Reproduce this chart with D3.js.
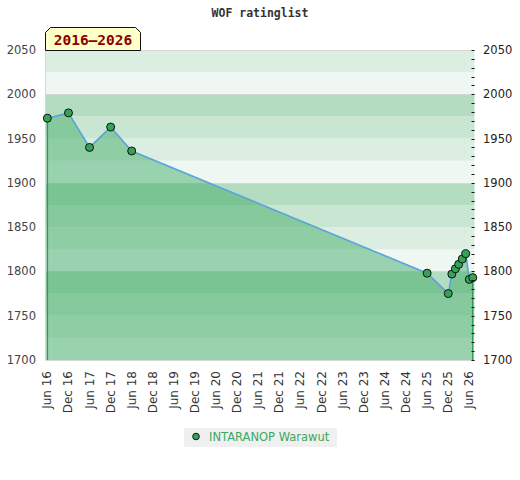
<!DOCTYPE html>
<html>
<head>
<meta charset="utf-8">
<title>WOF ratinglist</title>
<script src="https://d3js.org/d3.v7.min.js"></script>
<style>
  body { margin: 0; background: #fff; font-family: "DejaVu Sans", sans-serif; }
  svg { display: block; }
</style>
</head>
<body>
<script>
// rating history, one entry per list
var dates = ["2016-06-01", "2016-12-01", "2017-06-01", "2017-12-01", "2018-06-01",
             "2025-06-01", "2025-12-01", "2026-01-01", "2026-02-01", "2026-03-01",
             "2026-04-01", "2026-05-01", "2026-06-01", "2026-07-01"];
var ratings = [1973, 1979, 1940, 1963, 1936,
               1798, 1775, 1797, 1803, 1808,
               1814, 1820, 1791, 1793];
var yLabels = [1700, 1750, 1800, 1850, 1900, 1950, 2000, 2050];
var xTickMonths = d3.range(0, 21).map(function(i) { return d3.timeMonth.offset(new Date(2016, 5, 1), i * 6); });
var playerName = "INTARANOP Warawut";
var periodLabel = "2016\u20132026";
var chartTitle = "WOF ratinglist";

var W = 520, H = 480;
// note: "top" is taken by window.top, so plot edges get their own names
var pLeft = 45.5, pRight = 474.5, pTop = 50, pBottom = 360;

var svg = d3.select("body").append("svg").attr("width", W).attr("height", H);

var parse = d3.timeParse("%Y-%m-%d");
var data = dates.map(function(d, i) { return { date: parse(d), r: ratings[i] }; });

var x = d3.scaleTime()
    .domain([new Date(2016, 4, 16), new Date(2026, 6, 16)])
    .range([pLeft, pRight]);
var y = d3.scaleLinear().domain([1700, 2050]).range([pBottom, pTop]);

// background bands, 25 points each
var bandColor = { 0: "#eef7f1", 25: "#dbeee1", 50: "#c8e6d1", 75: "#b3dcc1" };
svg.selectAll(".band")
    .data(d3.range(1700, 2050, 25))
  .enter().append("rect")
    .attr("x", pLeft)
    .attr("width", pRight - pLeft)
    .attr("y", function(d) { return y(d + 25); })
    .attr("height", function(d) { return y(d) - y(d + 25); })
    .attr("fill", function(d) { return bandColor[d % 100]; });

// grid lines every 100
svg.selectAll(".grid")
    .data([1700, 1800, 1900, 2000, 2050])
  .enter().append("line")
    .attr("x1", pLeft).attr("x2", pRight)
    .attr("y1", function(d) { return Math.round(y(d)) + 0.5; })
    .attr("y2", function(d) { return Math.round(y(d)) + 0.5; })
    .attr("stroke", "#d6d6d6");
svg.append("line")
    .attr("x1", pLeft).attr("x2", pLeft).attr("y1", pTop).attr("y2", pBottom)
    .attr("stroke", "#d6d6d6");

// area under the rating line
var area = d3.area()
    .x(function(d) { return x(d.date); })
    .y0(y(1700))
    .y1(function(d) { return y(d.r); });
svg.append("path")
    .datum(data)
    .attr("d", area)
    .attr("fill", "rgb(59,169,98)")
    .attr("fill-opacity", 0.475);

// edges of the area
var ends = [data[0], data[data.length - 1]];
svg.selectAll(".edge")
    .data(ends)
  .enter().append("line")
    .attr("x1", function(d) { return x(d.date); })
    .attr("x2", function(d) { return x(d.date); })
    .attr("y1", function(d) { return y(d.r); })
    .attr("y2", y(1700))
    .attr("stroke", "#2f9a55")
    .attr("stroke-width", 1.5);

var line = d3.line()
    .x(function(d) { return x(d.date); })
    .y(function(d) { return y(d.r); });
svg.append("path")
    .datum(data)
    .attr("d", line)
    .attr("fill", "none")
    .attr("stroke", "#5aa3dc")
    .attr("stroke-width", 1.6);

svg.selectAll(".dot")
    .data(data)
  .enter().append("circle")
    .attr("cx", function(d) { return x(d.date); })
    .attr("cy", function(d) { return y(d.r); })
    .attr("r", 4)
    .attr("fill", "#33a456")
    .attr("stroke", "#111")
    .attr("stroke-width", 1);

// left axis labels
svg.selectAll(".ylabL")
    .data(yLabels)
  .enter().append("text")
    .attr("x", 36)
    .attr("y", function(d) { return y(d) + 4; })
    .attr("text-anchor", "end")
    .style("font-size", "11.5px")
    .attr("fill", "#444")
    .text(function(d) { return d; });

// right axis: labels and minor ticks
svg.selectAll(".ylabR")
    .data(yLabels)
  .enter().append("text")
    .attr("x", 483)
    .attr("y", function(d) { return y(d) + 4; })
    .style("font-size", "11.5px")
    .attr("fill", "#222")
    .text(function(d) { return d; });
svg.selectAll(".rtick")
    .data(d3.range(1700, 2051, 10))
  .enter().append("line")
    .attr("x1", pRight - 3).attr("x2", pRight)
    .attr("y1", function(d) { return Math.round(y(d)) + 0.5; })
    .attr("y2", function(d) { return Math.round(y(d)) + 0.5; })
    .attr("stroke", "#111");

// x labels, rotated
var fmt = d3.timeFormat("%b %y");
svg.selectAll(".xlab")
    .data(xTickMonths)
  .enter().append("text")
    .attr("transform", function(d) { return "translate(" + (x(d) + 4) + ",371) rotate(-90)"; })
    .attr("text-anchor", "end")
    .style("font-size", "12px")
    .attr("fill", "#333")
    .text(function(d) { return fmt(d); });

// title
svg.append("text")
    .attr("x", 260).attr("y", 17)
    .attr("text-anchor", "middle")
    .style("font-family", "'DejaVu Sans Mono', monospace")
    .style("font-weight", "bold")
    .style("font-size", "11.5px")
    .attr("fill", "#333")
    .text(chartTitle);

// period tag with cut corners
var bx0 = 45.5, bx1 = 140.5, by0 = 27.5, by1 = 50.5, c = 5;
svg.append("path")
    .attr("d", "M" + bx0 + "," + by1 + "V" + (by0 + c) + "L" + (bx0 + c) + "," + by0 +
               "H" + (bx1 - c) + "L" + bx1 + "," + (by0 + c) + "V" + by1 + "Z")
    .attr("fill", "#ffffc8")
    .attr("stroke", "#111");
svg.append("text")
    .attr("x", 93).attr("y", 45)
    .attr("text-anchor", "middle")
    .style("font-family", "'DejaVu Sans Mono', monospace")
    .style("font-weight", "bold")
    .style("font-size", "14.5px")
    .attr("fill", "#8b0000")
    .text(periodLabel);

// legend
var lg = svg.append("g");
lg.append("rect")
    .attr("x", 184).attr("y", 428).attr("width", 153).attr("height", 19)
    .attr("fill", "#f0f0f0");
lg.append("circle")
    .attr("cx", 196).attr("cy", 436.5).attr("r", 3.3)
    .attr("fill", "#33a456").attr("stroke", "#111");
lg.append("text")
    .attr("x", 209).attr("y", 441)
    .style("font-size", "11.5px")
    .attr("fill", "#3aa85f")
    .text(playerName);
</script>
</body>
</html>
